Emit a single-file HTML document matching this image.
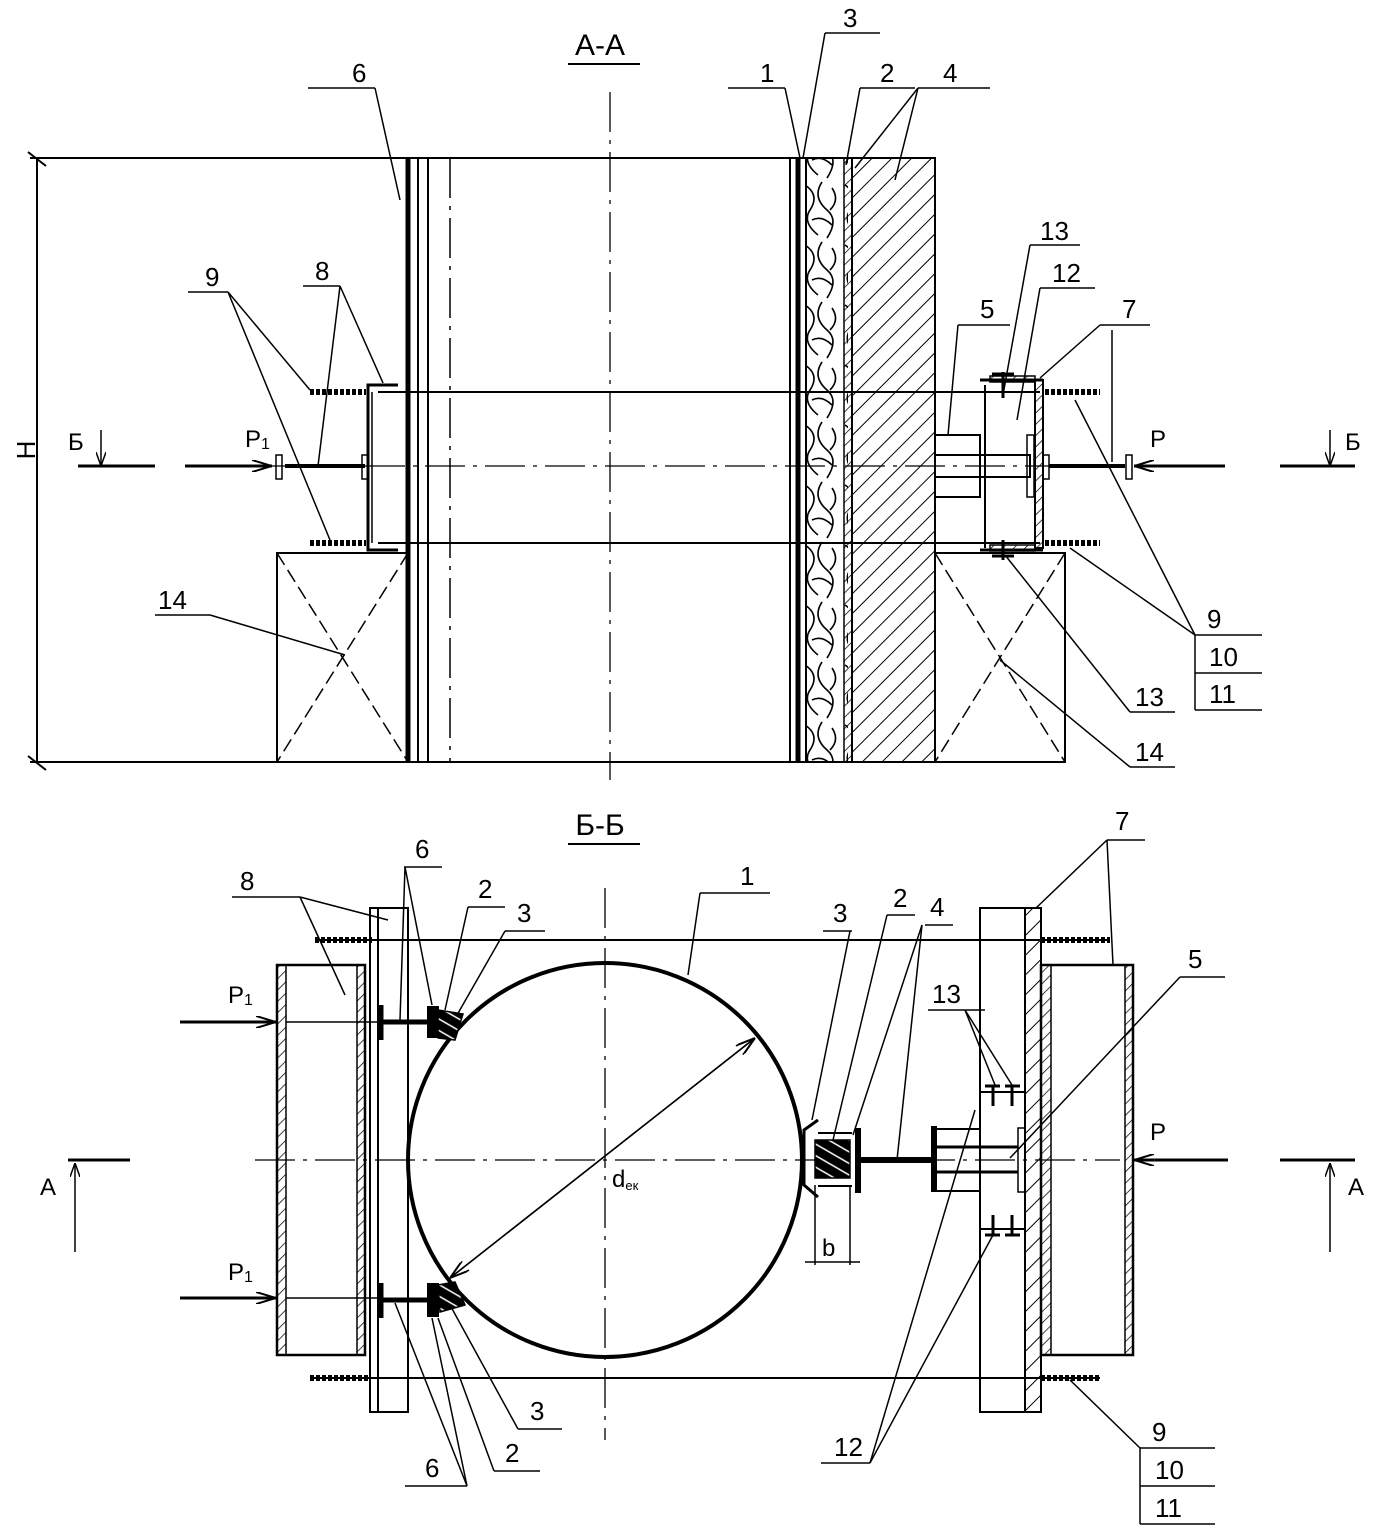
<!DOCTYPE html>
<html><head><meta charset="utf-8">
<style>
html,body{margin:0;padding:0;background:#fff;}
svg{display:block;}
text{font-family:"Liberation Sans",sans-serif;fill:#000;}
</style></head>
<body>
<svg width="1376" height="1530" viewBox="0 0 1376 1530" xmlns="http://www.w3.org/2000/svg">
<defs>
<pattern id="hd" width="14" height="14" patternUnits="userSpaceOnUse" patternTransform="rotate(45)">
<line x1="0" y1="0" x2="0" y2="14" stroke="#000" stroke-width="2"/></pattern>
<pattern id="hs" width="8" height="8" patternUnits="userSpaceOnUse" patternTransform="rotate(45)">
<line x1="0" y1="0" x2="0" y2="8" stroke="#000" stroke-width="1.5"/></pattern>
<pattern id="wood" width="40" height="60" patternUnits="userSpaceOnUse">
<path d="M5 5 q15 10 5 25 q-8 12 8 25 M22 2 q-10 15 5 28 q12 10 0 28 M32 8 q8 12 -2 22 M12 40 q10 -5 20 5" fill="none" stroke="#000" stroke-width="1.6"/></pattern>
<pattern id="wd2" width="10" height="10" patternUnits="userSpaceOnUse" patternTransform="rotate(30)">
<rect width="10" height="10" fill="#000"/><line x1="0" y1="3" x2="10" y2="3" stroke="#fff" stroke-width="1.5"/></pattern>
<marker id="ar" markerWidth="20" markerHeight="12" refX="20" refY="6" orient="auto" markerUnits="userSpaceOnUse">
<path d="M0 0 L20 6 L0 12" fill="none" stroke="#000" stroke-width="2"/></marker>
<marker id="ar2" markerWidth="14" markerHeight="10" refX="14" refY="5" orient="auto" markerUnits="userSpaceOnUse">
<path d="M0 0 L14 5 L0 10" fill="none" stroke="#000" stroke-width="1.5"/></marker>
</defs>
<g stroke="#000" fill="none" stroke-width="2">

<!-- ===== A-A ===== -->
<text x="600" y="55" font-size="30" text-anchor="middle" stroke="none">А-А</text>
<line x1="568" y1="64" x2="640" y2="64"/>
<line x1="30" y1="158" x2="935" y2="158"/>
<line x1="30" y1="762" x2="1065" y2="762"/>
<line x1="37" y1="158" x2="37" y2="762"/>
<line x1="28" y1="152" x2="46" y2="166"/>
<line x1="28" y1="756" x2="46" y2="770"/>
<text x="45" y="460" font-size="26" stroke="none" transform="rotate(-90 35 460)" text-anchor="middle">Н</text>
<line x1="610" y1="92" x2="610" y2="780" stroke-width="1.3" stroke-dasharray="40,8,4,8"/>
<line x1="185" y1="466" x2="1110" y2="466" stroke-width="1.3" stroke-dasharray="40,8,4,8"/>
<line x1="408" y1="158" x2="408" y2="762" stroke-width="5"/>
<line x1="418" y1="158" x2="418" y2="762"/>
<line x1="428" y1="158" x2="428" y2="762"/>
<line x1="450" y1="158" x2="450" y2="762" stroke-dasharray="40,8,4,8" stroke-width="1.5"/>
<line x1="790" y1="158" x2="790" y2="762"/>
<line x1="798" y1="158" x2="798" y2="762" stroke-width="5"/>
<line x1="806" y1="158" x2="806" y2="762"/>
<rect x="806" y="158" width="42" height="604" fill="url(#wood)" stroke="none"/>
<rect x="844" y="158" width="8" height="604" fill="url(#hs)" stroke-width="1.5"/>
<rect x="852" y="158" width="83" height="604" fill="url(#hd)"/>
<rect x="277" y="553" width="131" height="209"/>
<line x1="277" y1="553" x2="408" y2="762" stroke-dasharray="14,6" stroke-width="1.5"/>
<line x1="408" y1="553" x2="277" y2="762" stroke-dasharray="14,6" stroke-width="1.5"/>
<rect x="935" y="553" width="130" height="209"/>
<line x1="935" y1="553" x2="1065" y2="762" stroke-dasharray="14,6" stroke-width="1.5"/>
<line x1="1065" y1="553" x2="935" y2="762" stroke-dasharray="14,6" stroke-width="1.5"/>
<line x1="378" y1="392" x2="1040" y2="392"/>
<line x1="378" y1="543" x2="1040" y2="543"/>
<path d="M398 385 L368 385 L368 550 L398 550" stroke-width="3"/>
<line x1="372" y1="392" x2="372" y2="543" stroke-width="1.5"/>
<line x1="310" y1="392" x2="366" y2="392" stroke-width="6" stroke-dasharray="4,2"/>
<line x1="310" y1="543" x2="366" y2="543" stroke-width="6" stroke-dasharray="4,2"/>
<line x1="285" y1="466" x2="365" y2="466" stroke-width="4"/>
<rect x="276" y="455" width="6" height="24" stroke-width="1.5"/>
<rect x="362" y="455" width="6" height="24" stroke-width="1.5"/>
<line x1="78" y1="466" x2="155" y2="466" stroke-width="3"/>
<line x1="185" y1="466" x2="272" y2="466" stroke-width="3" marker-end="url(#ar)"/>
<line x1="101" y1="430" x2="101" y2="466" stroke-width="1.5" marker-end="url(#ar2)"/>
<text x="68" y="450" font-size="24" stroke="none">Б</text>
<text x="245" y="447" font-size="24" stroke="none">Р<tspan font-size="16" dy="2">1</tspan></text>
<rect x="935" y="435" width="45" height="62"/>
<rect x="935" y="455" width="95" height="22"/>
<line x1="985" y1="385" x2="985" y2="548"/>
<rect x="1035" y="380" width="8" height="168" fill="url(#hs)"/>
<path d="M980 380 L1043 380 M980 550 L1043 550" stroke-width="3"/>
<rect x="990" y="376" width="45" height="6" fill="url(#hs)" stroke-width="1.5"/>
<rect x="990" y="545" width="45" height="6" fill="url(#hs)" stroke-width="1.5"/>
<line x1="1003" y1="372" x2="1003" y2="398" stroke-width="3"/>
<line x1="1003" y1="540" x2="1003" y2="560" stroke-width="3"/>
<line x1="992" y1="374" x2="1014" y2="374" stroke-width="3"/>
<line x1="992" y1="556" x2="1014" y2="556" stroke-width="3"/>
<rect x="1027" y="435" width="7" height="62" stroke-width="1.5"/>
<rect x="1043" y="455" width="6" height="24" stroke-width="1.5"/>
<line x1="1049" y1="466" x2="1125" y2="466" stroke-width="4"/>
<rect x="1126" y="455" width="6" height="24" stroke-width="1.5"/>
<line x1="1225" y1="466" x2="1134" y2="466" stroke-width="3" marker-end="url(#ar)"/>
<line x1="1045" y1="392" x2="1100" y2="392" stroke-width="6" stroke-dasharray="4,2"/>
<line x1="1045" y1="543" x2="1100" y2="543" stroke-width="6" stroke-dasharray="4,2"/>
<line x1="1280" y1="466" x2="1355" y2="466" stroke-width="3"/>
<line x1="1330" y1="430" x2="1330" y2="466" stroke-width="1.5" marker-end="url(#ar2)"/>
<text x="1345" y="450" font-size="24" stroke="none">Б</text>
<text x="1150" y="447" font-size="24" stroke="none">Р</text>
<line x1="1112" y1="330" x2="1112" y2="462" stroke-width="1.5"/>
<g stroke-width="1.5">
<line x1="308" y1="88" x2="375" y2="88"/><line x1="375" y1="88" x2="400" y2="200"/>
<line x1="728" y1="88" x2="785" y2="88"/><line x1="785" y1="88" x2="800" y2="158"/>
<line x1="825" y1="33" x2="880" y2="33"/><line x1="825" y1="33" x2="803" y2="158"/>
<line x1="860" y1="88" x2="915" y2="88"/><line x1="860" y1="88" x2="846" y2="165"/>
<line x1="918" y1="88" x2="990" y2="88"/><line x1="918" y1="88" x2="855" y2="168"/><line x1="918" y1="88" x2="895" y2="180"/>
<line x1="1030" y1="245" x2="1080" y2="245"/><line x1="1030" y1="245" x2="1003" y2="395"/>
<line x1="1040" y1="288" x2="1095" y2="288"/><line x1="1040" y1="288" x2="1017" y2="420"/>
<line x1="1100" y1="325" x2="1150" y2="325"/><line x1="1100" y1="325" x2="1040" y2="378"/>
<line x1="958" y1="325" x2="1010" y2="325"/><line x1="958" y1="325" x2="948" y2="435"/>
<line x1="188" y1="292" x2="228" y2="292"/><line x1="228" y1="292" x2="310" y2="390"/><line x1="228" y1="292" x2="330" y2="540"/>
<line x1="303" y1="286" x2="340" y2="286"/><line x1="340" y1="286" x2="383" y2="383"/><line x1="340" y1="286" x2="318" y2="466"/>
<line x1="155" y1="615" x2="210" y2="615"/><line x1="210" y1="615" x2="345" y2="655"/>
<line x1="1195" y1="635" x2="1262" y2="635"/><line x1="1195" y1="673" x2="1262" y2="673"/><line x1="1195" y1="710" x2="1262" y2="710"/><line x1="1195" y1="635" x2="1195" y2="710"/>
<line x1="1195" y1="635" x2="1075" y2="400"/><line x1="1195" y1="635" x2="1070" y2="548"/>
<line x1="1130" y1="712" x2="1175" y2="712"/><line x1="1130" y1="712" x2="1005" y2="555"/>
<line x1="1130" y1="767" x2="1175" y2="767"/><line x1="1130" y1="767" x2="1000" y2="660"/>
</g>
<g stroke="none" font-size="26">
<text x="352" y="82">6</text><text x="760" y="82">1</text><text x="843" y="27">3</text>
<text x="880" y="82">2</text><text x="943" y="82">4</text><text x="1040" y="240">13</text>
<text x="1052" y="282">12</text><text x="1122" y="318">7</text><text x="980" y="318">5</text>
<text x="205" y="286">9</text><text x="315" y="280">8</text><text x="158" y="609">14</text>
<text x="1207" y="628">9</text><text x="1209" y="666">10</text><text x="1209" y="703">11</text>
<text x="1135" y="706">13</text><text x="1135" y="761">14</text>
</g>

<!-- ===== Б-Б ===== -->
<text x="600" y="835" font-size="30" text-anchor="middle" stroke="none">Б-Б</text>
<line x1="568" y1="844" x2="640" y2="844"/>
<line x1="605" y1="888" x2="605" y2="1440" stroke-width="1.3" stroke-dasharray="40,8,4,8"/>
<line x1="255" y1="1160" x2="1120" y2="1160" stroke-width="1.3" stroke-dasharray="40,8,4,8"/>
<circle cx="605" cy="1160" r="197" stroke-width="4"/>
<rect x="370" y="908" width="38" height="504"/>
<line x1="378" y1="908" x2="378" y2="1412"/>
<rect x="277" y="965" width="88" height="390" stroke-width="2.5"/>
<rect x="277" y="965" width="9" height="390" fill="url(#hs)" stroke-width="1.5"/>
<rect x="357" y="965" width="8" height="390" fill="url(#hs)" stroke-width="1.5"/>
<line x1="315" y1="940" x2="1110" y2="940"/>
<line x1="310" y1="1378" x2="1100" y2="1378"/>
<line x1="315" y1="940" x2="372" y2="940" stroke-width="6" stroke-dasharray="4,2"/>
<line x1="310" y1="1378" x2="370" y2="1378" stroke-width="6" stroke-dasharray="4,2"/>
<line x1="380" y1="1022" x2="430" y2="1022" stroke-width="5"/>
<line x1="381" y1="1005" x2="381" y2="1040" stroke-width="5"/>
<rect x="428" y="1007" width="10" height="30" fill="#000"/>
<path d="M438 1010 L463 1014 L455 1040 L438 1038 Z" fill="url(#wd2)" stroke-width="1.5"/>
<line x1="380" y1="1300" x2="430" y2="1300" stroke-width="5"/>
<line x1="381" y1="1283" x2="381" y2="1318" stroke-width="5"/>
<rect x="428" y="1284" width="10" height="32" fill="#000"/>
<path d="M438 1285 L455 1282 L465 1305 L440 1312 Z" fill="url(#wd2)" stroke-width="1.5"/>
<line x1="180" y1="1022" x2="276" y2="1022" stroke-width="3" marker-end="url(#ar)"/>
<line x1="180" y1="1298" x2="276" y2="1298" stroke-width="3" marker-end="url(#ar)"/>
<line x1="286" y1="1022" x2="380" y2="1022" stroke-width="1.5"/>
<line x1="286" y1="1298" x2="380" y2="1298" stroke-width="1.5"/>
<text x="228" y="1003" font-size="24" stroke="none">Р<tspan font-size="16" dy="2">1</tspan></text>
<text x="228" y="1280" font-size="24" stroke="none">Р<tspan font-size="16" dy="2">1</tspan></text>
<line x1="68" y1="1160" x2="130" y2="1160" stroke-width="3"/>
<line x1="75" y1="1252" x2="75" y2="1163" stroke-width="1.5" marker-end="url(#ar2)"/>
<text x="40" y="1195" font-size="24" stroke="none">А</text>
<line x1="1280" y1="1160" x2="1355" y2="1160" stroke-width="3"/>
<line x1="1330" y1="1252" x2="1330" y2="1163" stroke-width="1.5" marker-end="url(#ar2)"/>
<text x="1348" y="1195" font-size="24" stroke="none">А</text>
<line x1="755" y1="1038" x2="450" y2="1278" stroke-width="1.5" marker-end="url(#ar)"/>
<line x1="450" y1="1278" x2="755" y2="1038" stroke-width="1.5" marker-end="url(#ar)"/>
<text x="612" y="1187" font-size="24" stroke="none">d<tspan font-size="13" dy="3">ек</tspan></text>
<path d="M818 1120 L804 1130 L804 1185 L818 1197" stroke-width="3"/>
<rect x="815" y="1140" width="35" height="38" fill="url(#wd2)" stroke-width="1.5"/>
<line x1="818" y1="1133" x2="852" y2="1133"/><line x1="818" y1="1186" x2="852" y2="1186"/>
<line x1="858" y1="1128" x2="858" y2="1193" stroke-width="6"/>
<line x1="858" y1="1160" x2="935" y2="1160" stroke-width="6"/>
<line x1="934" y1="1126" x2="934" y2="1192" stroke-width="6"/>
<rect x="936" y="1129" width="44" height="62"/>
<line x1="936" y1="1147" x2="1018" y2="1147" stroke-width="3"/>
<line x1="936" y1="1172" x2="1018" y2="1172" stroke-width="3"/>
<rect x="1018" y="1128" width="7" height="64" stroke-width="1.5"/>
<line x1="815" y1="1185" x2="815" y2="1265" stroke-width="1.5"/>
<line x1="850" y1="1185" x2="850" y2="1265" stroke-width="1.5"/>
<line x1="805" y1="1262" x2="860" y2="1262" stroke-width="1.5"/>
<text x="822" y="1256" font-size="24" stroke="none">b</text>
<rect x="980" y="908" width="45" height="504"/>
<rect x="1025" y="908" width="16" height="504" fill="url(#hd)"/>
<rect x="1041" y="965" width="92" height="390" stroke-width="2.5"/>
<rect x="1041" y="965" width="10" height="390" fill="url(#hs)" stroke-width="1.5"/>
<rect x="1125" y="965" width="8" height="390" fill="url(#hs)" stroke-width="1.5"/>
<line x1="1041" y1="940" x2="1110" y2="940" stroke-width="6" stroke-dasharray="4,2"/>
<line x1="1041" y1="1378" x2="1100" y2="1378" stroke-width="6" stroke-dasharray="4,2"/>
<line x1="1228" y1="1160" x2="1134" y2="1160" stroke-width="3" marker-end="url(#ar)"/>
<text x="1150" y="1140" font-size="24" stroke="none">Р</text>
<line x1="980" y1="1092" x2="1025" y2="1092"/><line x1="980" y1="1229" x2="1025" y2="1229"/>
<path d="M985 1086 h15 M993 1086 v20 M1005 1086 h15 M1012 1086 v20 M985 1235 h15 M993 1215 v20 M1005 1235 h15 M1012 1215 v20" stroke-width="3"/>
<g stroke-width="1.5">
<line x1="232" y1="897" x2="300" y2="897"/><line x1="300" y1="897" x2="388" y2="920"/><line x1="300" y1="897" x2="345" y2="995"/>
<line x1="404" y1="867" x2="442" y2="867"/><line x1="405" y1="867" x2="400" y2="1020"/><line x1="405" y1="867" x2="432" y2="1005"/>
<line x1="468" y1="907" x2="505" y2="907"/><line x1="468" y1="907" x2="445" y2="1010"/>
<line x1="505" y1="931" x2="545" y2="931"/><line x1="505" y1="931" x2="457" y2="1015"/>
<line x1="700" y1="893" x2="770" y2="893"/><line x1="700" y1="893" x2="688" y2="975"/>
<line x1="823" y1="931" x2="852" y2="931"/><line x1="850" y1="931" x2="812" y2="1120"/>
<line x1="887" y1="915" x2="915" y2="915"/><line x1="887" y1="915" x2="833" y2="1140"/>
<line x1="925" y1="925" x2="953" y2="925"/><line x1="922" y1="925" x2="853" y2="1135"/><line x1="922" y1="925" x2="897" y2="1160"/>
<line x1="928" y1="1010" x2="985" y2="1010"/><line x1="965" y1="1010" x2="995" y2="1085"/><line x1="965" y1="1010" x2="1012" y2="1085"/>
<line x1="1180" y1="977" x2="1225" y2="977"/><line x1="1180" y1="977" x2="1010" y2="1158"/>
<line x1="1107" y1="840" x2="1145" y2="840"/><line x1="1107" y1="840" x2="1036" y2="908"/><line x1="1107" y1="840" x2="1113" y2="965"/>
<line x1="821" y1="1463" x2="870" y2="1463"/><line x1="870" y1="1463" x2="975" y2="1110"/><line x1="870" y1="1463" x2="993" y2="1235"/>
<line x1="1140" y1="1448" x2="1215" y2="1448"/><line x1="1140" y1="1486" x2="1215" y2="1486"/><line x1="1140" y1="1524" x2="1215" y2="1524"/><line x1="1140" y1="1448" x2="1140" y2="1524"/>
<line x1="1140" y1="1448" x2="1070" y2="1380"/>
<line x1="405" y1="1486" x2="467" y2="1486"/><line x1="467" y1="1486" x2="395" y2="1303"/><line x1="467" y1="1486" x2="432" y2="1318"/>
<line x1="494" y1="1471" x2="540" y2="1471"/><line x1="494" y1="1471" x2="438" y2="1318"/>
<line x1="518" y1="1429" x2="562" y2="1429"/><line x1="518" y1="1429" x2="450" y2="1305"/>
</g>
<g stroke="none" font-size="26">
<text x="240" y="890">8</text><text x="415" y="858">6</text><text x="478" y="898">2</text>
<text x="517" y="922">3</text><text x="740" y="885">1</text><text x="833" y="922">3</text>
<text x="893" y="907">2</text><text x="930" y="916">4</text><text x="932" y="1003">13</text>
<text x="1188" y="968">5</text><text x="1115" y="830">7</text><text x="1152" y="1441">9</text>
<text x="1155" y="1479">10</text><text x="1155" y="1517">11</text><text x="834" y="1456">12</text>
<text x="425" y="1477">6</text><text x="505" y="1462">2</text><text x="530" y="1420">3</text>
</g>
</g>
</svg>
</body></html>
